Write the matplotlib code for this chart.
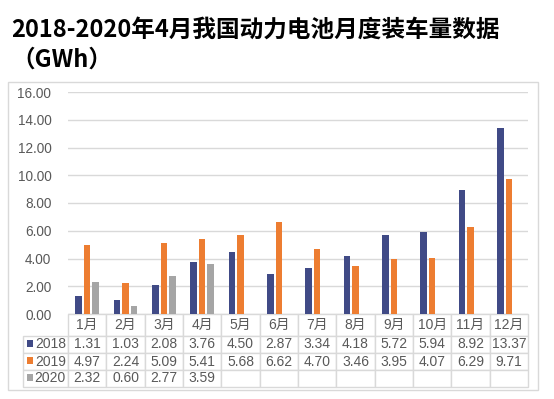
import matplotlib
matplotlib.use("Agg")
import matplotlib.pyplot as plt
from matplotlib.patches import Rectangle
import numpy as np

months = ["1月", "2月", "3月", "4月", "5月", "6月", "7月", "8月", "9月", "10月", "11月", "12月"]
series_names = ["2018", "2019", "2020"]
v2018 = [1.31, 1.03, 2.08, 3.76, 4.50, 2.87, 3.34, 4.18, 5.72, 5.94, 8.92, 13.37]
v2019 = [4.97, 2.24, 5.09, 5.41, 5.68, 6.62, 4.70, 3.46, 3.95, 4.07, 6.29, 9.71]
v2020 = [2.32, 0.60, 2.77, 3.59]
yticks = [0, 2, 4, 6, 8, 10, 12, 14, 16]
title = "2018-2020年4月我国动力电池月度装车量数据\n（GWh）"

colors = ["#404A86", "#ED7D31", "#A5A5A5"]
txtcol = "#595959"
gridcol = "#D9D9D9"
font = ["Liberation Sans", "Noto Sans CJK SC"]

W, H = 554, 399
fig = plt.figure(figsize=(W / 100, H / 100), dpi=100)

# outer chart frame
frame = Rectangle((8 / W, 1 - 390 / H), 530 / W, 308 / H, transform=fig.transFigure,
                  facecolor="white", edgecolor="#D9D9D9", lw=1.0, zorder=-5)
fig.add_artist(frame)

fig.text(11 / W, 1 - 18 / H, title, ha="left", va="top", fontsize=17,
         family=["Noto Sans CJK SC", "DejaVu Sans"], weight="bold", color="black", linespacing=1.3)

ax = fig.add_axes([68 / W, 1 - 314 / H, 460 / W, 222 / H])
ax.set_zorder(2)
ax.set_facecolor("none")
x = np.arange(len(months))
bw = 0.17
off = 0.222
ax.bar(x - off, v2018, bw, color=colors[0], zorder=3)
ax.bar(x, v2019, bw, color=colors[1], zorder=3)
ax.bar(np.arange(len(v2020)) + off, v2020, bw, color=colors[2], zorder=3)

ax.set_xlim(-0.5, len(months) - 0.5)
ax.set_ylim(0, 16)
ax.set_yticks(yticks)
ax.set_yticklabels([f"{t:.2f}" for t in yticks], family=font, fontsize=9.8, color=txtcol)
ax.tick_params(axis="y", length=0, pad=12)
ax.set_xticks([])
ax.grid(axis="y", color=gridcol, lw=1.0, zorder=0)
for s in ax.spines.values():
    s.set_visible(False)

# data table
def fmt(lst):
    return [f"{v:.2f}" for v in lst] + [""] * (len(months) - len(lst))

cell_text = [[""] + months,
             ["2018"] + fmt(v2018),
             ["2019"] + fmt(v2019),
             ["2020"] + fmt(v2020)]
colw = [45] + [460 / 12] * 12
left = (23 - 68) / 460
tb = ax.table(cellText=cell_text, colWidths=colw, cellLoc="center",
              bbox=[left, -73 / 222, (528 - 23) / 460, 73 / 222])
tb.auto_set_font_size(False)
for (r, c), cell in tb.get_celld().items():
    cell.set_edgecolor(gridcol)
    cell.set_linewidth(1.0)
    cell.get_text().set_fontsize(10)
    cell.get_text().set_color(txtcol)
    cell.get_text().set_fontfamily(font)
    cell.set_height(22 if r == 0 else 17)
    if r == 0 and c == 0:
        cell.visible_edges = ""
    if c == 0 and r > 0:
        cell.get_text().set_ha("right")
        cell._loc = "right"
        cell.PAD = 0.05

row_centers = [-(335 + 352) / 2 + 314, -(352 + 369) / 2 + 314, -(369 + 386) / 2 + 314]
for i, yc in enumerate(row_centers):
    ax.add_patch(Rectangle(((27 - 68) / 460, (yc - 3.2) / 222), 6 / 460, 6.4 / 222,
                           transform=ax.transAxes, facecolor=colors[i], edgecolor="none",
                           clip_on=False, zorder=5))

fig.savefig("out.png", dpi=100)
